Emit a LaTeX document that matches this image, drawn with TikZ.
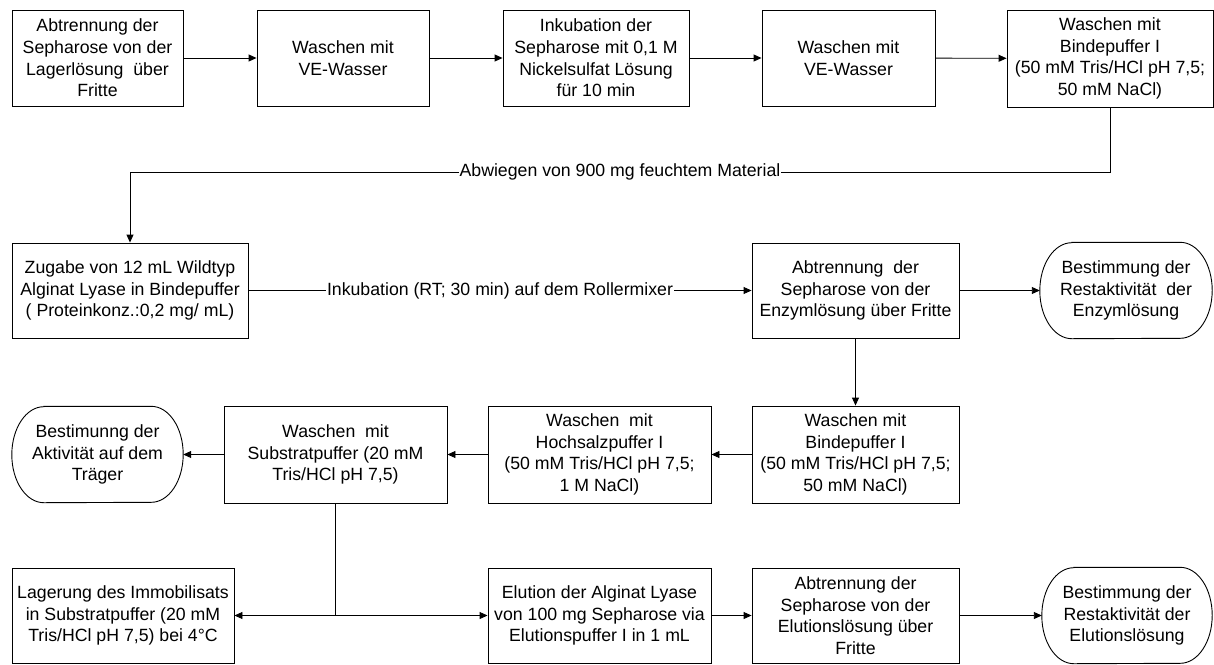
\documentclass[tikz,border=0pt]{standalone}
\usepackage{fontspec}
\setmainfont{Liberation Sans}
\usetikzlibrary{arrows.meta,calc}

% Terminator outline: flat top and bottom, half-ellipse ends
\newcommand\terminatorpath[1]{%
  \draw[outline] ($(#1.north west)+(32,0)$) -- ($(#1.north east)+(-32,0)$)
    arc[start angle=90,end angle=-90,x radius=32pt,y radius=48pt]
    -- ($(#1.south west)+(32,0)$)
    arc[start angle=270,end angle=90,x radius=32pt,y radius=48pt] -- cycle;}

\begin{document}
\begin{tikzpicture}[x=1pt,y=-1pt,
  txt/.style={font=\fontsize{17.7}{21.6}\selectfont, align=center, inner sep=0pt},
  outline/.style={draw=black, line width=0.9pt},
  stepbox/.style={txt, rectangle, outline},
  term/.style={txt, rectangle, minimum width=171, minimum height=96},
  arr/.style={line width=0.9pt, -{Triangle[length=8pt,width=7pt]}},
  plain/.style={line width=0.9pt},
  lbl/.style={txt, fill=white, inner sep=1pt}]
\useasboundingbox (0,0) rectangle (1214,664);

% first row
\node[stepbox, minimum width=171, minimum height=96] (a1) at (97.5,58)
  {Abtrennung der\\Sepharose von der\\Lagerlösung\ \ über\\Fritte};
\node[stepbox, minimum width=172, minimum height=96] (a2) at (343,58)
  {Waschen mit\\VE-Wasser};
\node[stepbox, minimum width=186, minimum height=96] (a3) at (596,58)
  {Inkubation der\\Sepharose mit 0,1 M\\Nickelsulfat Lösung\\für 10 min};
\node[stepbox, minimum width=173, minimum height=96] (a4) at (848.5,58)
  {Waschen mit\\VE-Wasser};
\node[stepbox, minimum width=206, minimum height=97] (a5) at (1110,58.5)
  {Waschen mit\\Bindepuffer I\\(50 mM Tris/HCl pH 7,5;\\50 mM NaCl)};

% second row
\node[stepbox, minimum width=236, minimum height=95] (b1) at (130,290.5)
  {Zugabe von 12 mL Wildtyp\\Alginat Lyase in Bindepuffer\\( Proteinkonz.:0,2 mg/ mL)};
\node[stepbox, minimum width=207, minimum height=95] (b2) at (855.5,290.5)
  {Abtrennung\ \ der\\Sepharose von der\\Enzymlösung über Fritte};
\node[term, minimum width=172] (b3) at (1126,290.5)
  {Bestimmung der\\Restaktivität\ \ der\\Enzymlösung};

% third row
\node[term] (c1) at (97.5,454.5)
  {Bestimunng der\\Aktivität auf dem\\Träger};
\node[stepbox, minimum width=223, minimum height=97] (c2) at (335.5,454.5)
  {Waschen\ \ mit\\Substratpuffer (20 mM\\Tris/HCl pH 7,5)};
\node[stepbox, minimum width=223, minimum height=97] (c3) at (599.5,454.5)
  {Waschen\ \ mit\\Hochsalzpuffer I\\(50 mM Tris/HCl pH 7,5;\\1 M NaCl)};
\node[stepbox, minimum width=207, minimum height=97] (c4) at (855.5,454.5)
  {Waschen mit\\Bindepuffer I\\(50 mM Tris/HCl pH 7,5;\\50 mM NaCl)};

% fourth row
\node[stepbox, minimum width=222, minimum height=95] (d1) at (123,615.5)
  {Lagerung des Immobilisats\\in Substratpuffer (20 mM\\Tris/HCl pH 7,5) bei 4°C};
\node[stepbox, minimum width=223, minimum height=95] (d2) at (599.5,615.5)
  {Elution der Alginat Lyase\\von 100 mg Sepharose via\\Elutionspuffer I in 1 mL};
\node[stepbox, minimum width=207, minimum height=95] (d3) at (855.5,615.5)
  {Abtrennung der\\Sepharose von der\\Elutionslösung über\\Fritte};
\node[term, minimum width=170] (d4) at (1127,615.5)
  {Bestimmung der\\Restaktivität der\\Elutionslösung};

\foreach \t in {b3,c1,d4} {\terminatorpath{\t}}

% connectors
\draw[arr] (a1) -- (a2);
\draw[arr] (a2) -- (a3);
\draw[arr] (a3) -- (a4);
\draw[arr] (a4) -- (a5);

\coordinate (k1) at (1110,172);
\coordinate (k2) at (130,172);
\draw[arr] (a5.south) -- (k1) -- node[lbl] {Abwiegen von 900 mg feuchtem Material} (k2) -- (b1.north);

\draw[arr] (b1) -- node[lbl] {Inkubation (RT; 30 min) auf dem Rollermixer} (b2);
\draw[arr] (b2) -- (b3.west);
\draw[arr] (b2) -- (c4);

\draw[arr] (c4) -- (c3);
\draw[arr] (c3) -- (c2);
\draw[arr] (c2) -- (c1.east);

\coordinate (s) at (335.5,615.5);
\draw[plain] (c2.south) -- (s);
\draw[arr] (s) -- (d1.east);
\draw[arr] (s) -- (d2.west);
\draw[arr] (d2) -- (d3);
\draw[arr] (d3) -- (d4.west);
\end{tikzpicture}
\end{document}
